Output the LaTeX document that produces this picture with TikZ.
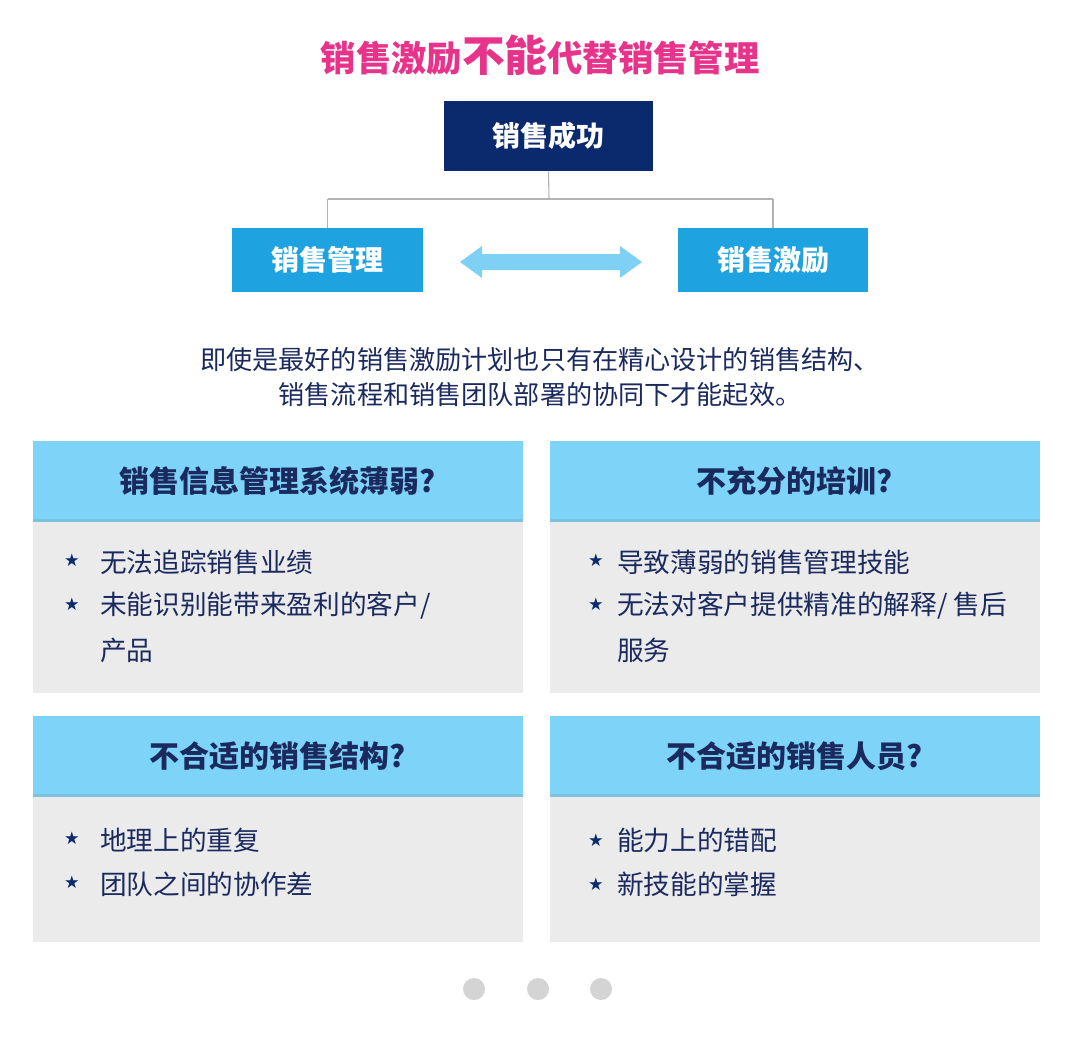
\documentclass[tikz,border=0pt]{standalone}
\usepackage{fontspec}
\setmainfont{Noto Sans CJK SC}
\newfontfamily\symfont{DejaVu Sans}
\usetikzlibrary{arrows.meta}
\definecolor{titlepink}{HTML}{E8338A}
\definecolor{navy}{HTML}{0B2A6E}
\definecolor{skyblue}{HTML}{1FA3E0}
\definecolor{lightarrow}{HTML}{7FD0F5}
\definecolor{bandblue}{HTML}{7DD3F8}
\definecolor{bodygrey}{HTML}{EBEBEB}
\definecolor{textnavy}{HTML}{1B2A5E}
\definecolor{dotgrey}{HTML}{D4D4D4}
\tikzset{
  topbox/.style={fill=navy,text=white,font=\bfseries\fontsize{21}{25}\selectfont,inner sep=0pt},
  sidebox/.style={fill=skyblue,text=white,font=\bfseries\fontsize{21}{25}\selectfont,inner sep=0pt},
  band/.style={fill=bandblue},
  panel/.style={fill=bodygrey},
  headtext/.style={text=textnavy,font=\bfseries\fontsize{22.5}{26}\selectfont},
  itemtext/.style={text=textnavy,font=\fontsize{20}{24}\selectfont,anchor=west,inner sep=0pt},
  staricon/.style={text=navy,font=\symfont\fontsize{13}{14}\selectfont,inner sep=0pt},
  link/.style={draw=gray!60,line width=0.8pt},
}
\begin{document}
\begin{tikzpicture}[x=0.75pt,y=-0.75pt]
\useasboundingbox[fill=white] (0,0) rectangle (1080,1036);
%title
\node[text=titlepink,font=\bfseries\fontsize{26.5}{30}\selectfont] (title) at (540,55)
  {销售激励\fontsize{32}{34}\selectfont 不能\fontsize{26.5}{30}\selectfont 代替销售管理};
%boxes
\node[topbox,minimum width=157pt,minimum height=52.5pt] (success) at (548.5,136) {销售成功};
\node[sidebox,minimum width=143pt,minimum height=48pt] (mgmt) at (327.5,260) {销售管理};
\node[sidebox,minimum width=143pt,minimum height=48pt] (incent) at (773,260) {销售激励};
\coordinate (split) at (549,199);
\draw[link] (success.south) -- (split);
\draw[link] (split -| mgmt.north) -- (split -| incent.north);
\draw[link] (split -| mgmt.north) -- (mgmt.north);
\draw[link] (split -| incent.north) -- (incent.north);
\fill[lightarrow] (460,262) -- (482,246) -- (482,254) -- (620,254) -- (620,246)
  -- (642,262) -- (620,278) -- (620,270) -- (482,270) -- (482,278) -- cycle;
%paragraph
\node[text=textnavy,font=\fontsize{19.6}{26.5}\selectfont,align=center] (para) at (540,377)
  {即使是最好的销售激励计划也只有在精心设计的销售结构、\\销售流程和销售团队部署的协同下才能起效。};
%panels
\foreach \name/\xa/\ya/\yb/\head in {p1/33/441/693/销售信息管理系统薄弱?, p2/550/441/693/不充分的培训?,
  p3/33/716/942/不合适的销售结构?, p4/550/716/942/不合适的销售人员?}{
  \fill[panel] (\xa,\ya) rectangle ({\xa+490},\yb);
  \fill[band] (\xa,\ya) rectangle ({\xa+490},{\ya+80});
  \fill[bandblue!80!gray] (\xa,{\ya+78}) rectangle ({\xa+490},{\ya+81});
  \node[headtext] (\name) at ({\xa+245},{\ya+40}) {\head};
}
%items
\foreach \x/\y/\t in {100/562/{无法追踪销售业绩}, 100/606/{未能识别能带来盈利的客户/}, 100/650/{产品},
  617/562/{导致薄弱的销售管理技能}, 617/606/{无法对客户提供精准的解释/ 售后}, 617/650/{服务},
  100/840/{地理上的重复}, 100/884/{团队之间的协作差}, 617/840/{能力上的错配}, 617/884/{新技能的掌握}}{
  \node[itemtext] at (\x,\y) {\t};
}
\foreach \x/\y in {72/560, 72/604, 596/560, 596/604, 72/838, 72/882, 596/840, 596/884}{
  \node[staricon] at (\x,\y) {★};
}
%dots
\foreach \x in {474,538,601}{
  \fill[dotgrey] (\x,989) circle (11);
}
\end{tikzpicture}
\end{document}
